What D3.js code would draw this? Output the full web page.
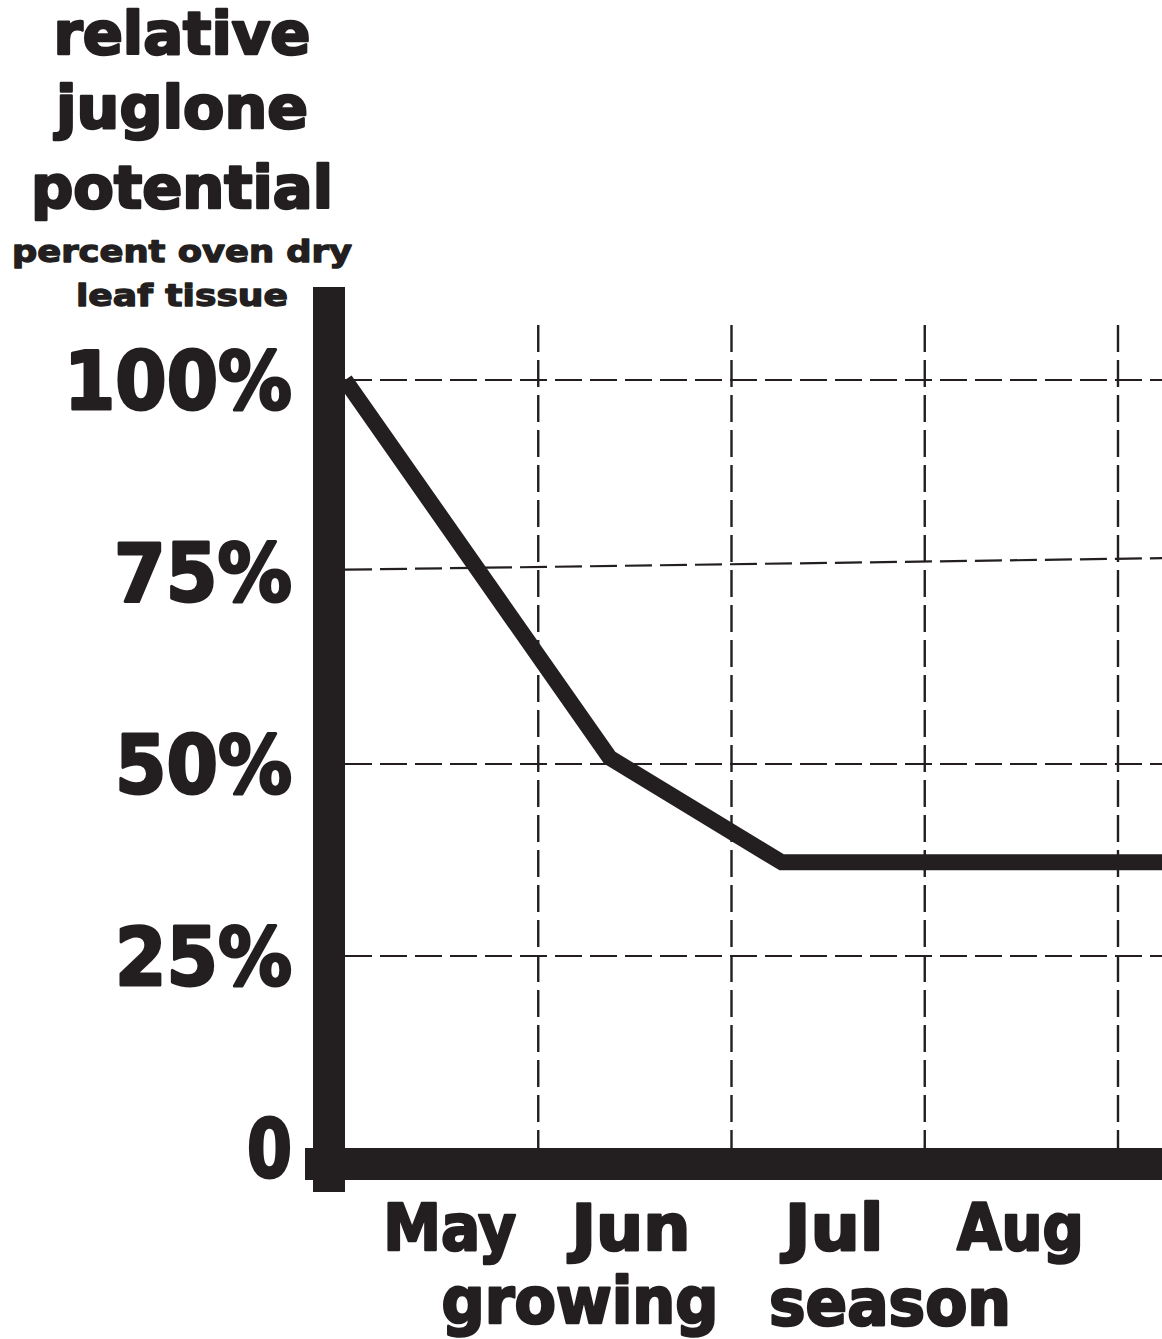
<!DOCTYPE html>
<html><head><meta charset="utf-8">
<script src="https://cdn.jsdelivr.net/npm/d3@7"></script>
<style>html,body{margin:0;padding:0;background:#fff;} svg{display:block;}</style>
</head><body><svg id="c" width="1162" height="1339"></svg>
<script>
// ---- data ----
const months = ["May", "Jun", "Jul", "Aug"];
const monthBoundaries = [1, 2, 3, 4];            // start of Jun, Jul, Aug, Sep
const yTickValues = [0, 25, 50, 75, 100];
const yTickLabels = ["0", "25%", "50%", "75%", "100%"];
const gridLeftValues = [25, 50, 75.3, 100];     // horizontal dashed lines (left end)
const gridRightValues = [25, 50, 76.8, 100];    // (right end, the 75% line is drawn slightly tilted)
const seriesMonth = [0, 1.37, 2.26, 4.3];        // months after May 1
const seriesValue = [100, 50.8, 37.2, 37.2];     // relative juglone potential, %
const titleLines = ["relative", "juglone", "potential"];
const subtitleLines = ["percent oven dry", "leaf tissue"];
const xTitleWords = ["growing", "season"];

// ---- layout ----
const W = 1162, H = 1339, ink = "#231f20";
const font = "'DejaVu Sans', 'Liberation Sans', sans-serif";
const svg = d3.select("#c");
const x = d3.scaleLinear().domain([0, 4]).range([345, 1118]);
const y = d3.scaleLinear().domain([0, 100]).range([1148, 380]);

// horizontal dashed grid
svg.append("g").selectAll("line").data(gridLeftValues).join("line")
  .attr("x1", x(0)).attr("x2", W)
  .attr("y1", d => y(d)).attr("y2", (d, i) => y(gridRightValues[i]))
  .attr("stroke", ink).attr("stroke-width", 2.2).attr("stroke-dasharray", "27 8");

// vertical dashed grid (month boundaries)
svg.append("g").selectAll("line").data(monthBoundaries).join("line")
  .attr("x1", d => x(d)).attr("x2", d => x(d))
  .attr("y1", 325).attr("y2", y(0))
  .attr("stroke", ink).attr("stroke-width", 2.4).attr("stroke-dasharray", "27 8");

// series line
const pts = seriesMonth.map((m, i) => ({ m, v: seriesValue[i] }));
svg.append("path").datum(pts)
  .attr("d", d3.line().x(d => x(d.m)).y(d => y(d.v)))
  .attr("fill", "none").attr("stroke", ink).attr("stroke-width", 16)
  .attr("stroke-linejoin", "miter").attr("stroke-linecap", "butt");

// axis bars
svg.append("rect").attr("x", x(0) - 32).attr("y", 287).attr("width", 32).attr("height", y(0) + 44 - 287).attr("fill", ink);
svg.append("rect").attr("x", x(0) - 40).attr("y", y(0)).attr("width", W - (x(0) - 40)).attr("height", 32).attr("fill", ink);

function txt(s, cx, base, size, len, sw, anchor) {
  return svg.append("text").text(s)
    .attr("x", cx).attr("y", base)
    .attr("text-anchor", anchor || "middle")
    .attr("font-family", font).attr("font-weight", "bold")
    .attr("font-size", size).attr("fill", ink)
    .attr("stroke", ink).attr("stroke-width", sw).attr("stroke-linejoin", "round")
    .attr("textLength", len).attr("lengthAdjust", "spacingAndGlyphs");
}

// title
const titleBase = [54, 128, 208], titleLen = [257, 252, 302];
titleLines.forEach((s, i) => txt(s, 182, titleBase[i], 59, titleLen[i], 2.6));
const subBase = [262, 306], subLen = [340, 212];
subtitleLines.forEach((s, i) => txt(s, 182, subBase[i], 30, subLen[i], 1.3));

// y tick labels
const yLen = { "0": 45, "25%": 177, "50%": 177, "75%": 178, "100%": 228 };
yTickValues.forEach((v, i) => {
  const s = yTickLabels[i];
  txt(s, 292 - yLen[s], y(v) + 29, 81, yLen[s], 3, "start");
});

// month labels
const mLen = [133, 119, 99, 127], mShift = [8, -4, 6, -1];
months.forEach((s, i) => txt(s, x(i + 0.5) + mShift[i], 1250, 64, mLen[i], 2.6));

// x title
txt(xTitleWords[0], 580, 1323, 64, 277, 2.6);
txt(xTitleWords[1], 890, 1325, 64, 242, 2.6);
</script></body></html>
